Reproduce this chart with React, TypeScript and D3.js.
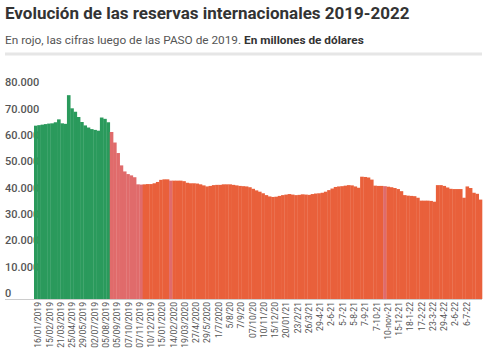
import React, { useEffect, useRef } from 'react';
import * as d3 from 'd3';

// Reservas (millones de USD), una barra por semana aprox.
const reservas = [
  65900, 66100, 66300, 66500, 66700, 66800, 67200, 68300, 66800, 66600,
  77500, 72500, 71200, 69200, 67300, 66000, 65200, 64600, 64300, 64000,
  69000, 68500, 67200,
  // post PASO
  63500, 59500, 55500, 50800, 48500, 47500, 47000, 46300, 43600, 43500,
  43600, 43700, 43700, 44000, 44500, 45300, 45500, 45500, 45000, 45000,
  45000, 45000, 44800, 44200, 44000, 44000, 43900, 43600, 43200, 42800,
  43000, 43300, 43400, 43400, 43600, 43600, 43600, 43400, 43200, 43000,
  42900, 42800, 42500, 41900, 41300, 40800, 40200, 39500, 39000, 38800,
  38900, 39200, 39500, 39700, 39900, 39700, 39500, 39600, 39800, 39700,
  39600, 39900, 40100, 40200, 40400, 40800, 41400, 42000, 42600, 42800,
  42900, 43100, 43300, 43200, 42800, 42300, 46500, 46400, 46200, 45400,
  43100, 43000, 43000, 42900, 42700, 42500, 42200, 41800, 41000, 39500,
  39300, 39200, 39100, 38500, 37400, 37400, 37400, 37300, 37000, 43300,
  43300, 43000, 42400, 41900, 41800, 41800, 41800, 38500, 42800, 42200,
  40400, 40000, 37800,
];

const preBars = 23; // barras antes de las PASO
const pinkUntil = 33; // primeras semanas post PASO en rosa
const pinkBars = [41, 106];

const fechas = [
  '16/01/2019', '15/02/2019', '21/03/2019', '25/04/2019', '29/05/2019', '02/07/2019',
  '05/08/2019', '05/09/2019', '07/10/2019', '07/11/2019', '10/12/2019', '15/01/2020',
  '14/02/2020', '19/03/2020', '27/4/2020', '29/5/2020', '1/7/2020', '5/8/20', '7/9/20',
  '07/10/20', '10/11/20', '15/12/20', '20/01/21', '23/2/21', '26/3/21', '29-4-21',
  '2-6-21', '5-7-21', '5-8-21', '7-9-21', '7-10-21', '10-nov-21', '15-12-21',
  '18-1-22', '17-2-22', '23-3-22', '29-4-22', '2-6-22', '6-7-22',
];

const yTicks = [0, 10000, 20000, 30000, 40000, 50000, 60000, 70000, 80000];

const GREEN = '#2a9a5c';
const PINK = '#e06b6b';
const ORANGE = '#e9603b';

const App = () => {
  const ref = useRef<SVGSVGElement>(null);

  useEffect(() => {
    if (!ref.current) return;
    const width = 500;
    const height = 352;
    const left = 34;
    const right = 482;
    const top = 88.6;
    const bottom = 299;

    const svg = d3.select(ref.current);
    svg.selectAll('*').remove();
    svg.attr('width', width).attr('height', height);

    const font = 'Roboto, "Noto Sans", sans-serif';

    // Title
    svg.append('text')
      .attr('x', 5)
      .attr('y', 19)
      .style('font-family', font)
      .style('font-size', '17px')
      .style('font-weight', 700)
      .style('fill', '#333')
      .text('Evolución de las reservas internacionales 2019-2022');

    const sub = svg.append('text')
      .attr('x', 5)
      .attr('y', 44)
      .style('font-family', font)
      .style('font-size', '11.8px')
      .style('fill', '#555');
    sub.append('tspan').text('En rojo, las cifras luego de las PASO de 2019. ');
    sub.append('tspan').style('font-weight', 700).style('fill', '#333').text('En millones de dólares');

    svg.append('rect')
      .attr('x', 5)
      .attr('y', 52.5)
      .attr('width', 477)
      .attr('height', 3)
      .attr('fill', '#e6e6e6');

    const x = d3.scaleBand<number>()
      .domain(d3.range(reservas.length))
      .range([left, right])
      .padding(0);

    const y = d3.scaleLinear()
      .domain([0, 80000])
      .range([bottom, top]);

    const color = (i: number) => {
      if (i < preBars) return GREEN;
      if (i < pinkUntil || pinkBars.includes(i)) return PINK;
      return ORANGE;
    };

    // y labels
    svg.append('g')
      .selectAll('text')
      .data(yTicks)
      .join('text')
      .attr('x', 5)
      .attr('y', d => y(d) - 6)
      .attr('dy', '0.35em')
      .style('font-family', font)
      .style('font-size', '11px')
      .style('font-weight', 500)
      .style('fill', '#555')
      .text(d => d3.format(',')(d).replace(/,/g, '.'));

    // bars
    svg.append('g')
      .selectAll('rect')
      .data(reservas)
      .join('rect')
      .attr('x', (_, i) => x(i)!)
      .attr('y', d => y(d))
      .attr('width', x.bandwidth() + 0.3)
      .attr('height', d => bottom - y(d))
      .attr('fill', (_, i) => color(i));

    // baseline
    svg.append('line')
      .attr('x1', 5)
      .attr('x2', right)
      .attr('y1', bottom + 0.5)
      .attr('y2', bottom + 0.5)
      .attr('stroke', '#ccc')
      .attr('stroke-width', 1);

    // x labels
    const xl = d3.scalePoint<string>()
      .domain(fechas)
      .range([38.3, 466.7]);

    svg.append('g')
      .selectAll('text')
      .data(fechas)
      .join('text')
      .attr('transform', d => `translate(${xl(d)}, 302) rotate(-90)`)
      .attr('dy', '0.35em')
      .style('text-anchor', 'end')
      .style('font-family', font)
      .style('font-size', '8.6px')
      .style('fill', '#555')
      .text(d => d);
  }, []);

  return (
    <svg ref={ref} style={{ position: 'absolute', left: 0, top: 0 }} />
  );
};

export default App;
